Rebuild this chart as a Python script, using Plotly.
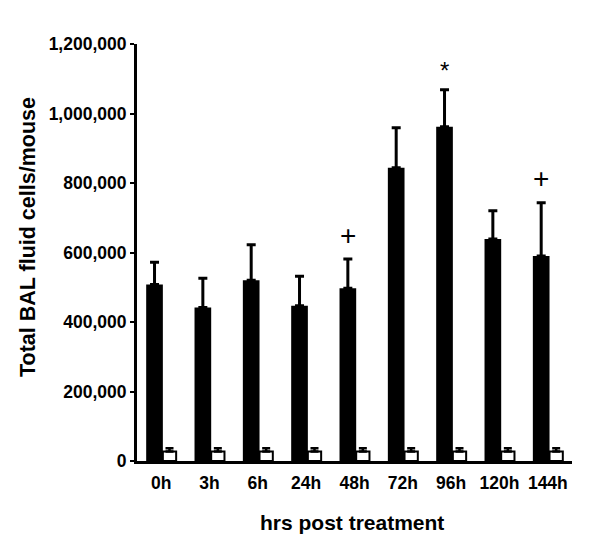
import plotly.graph_objects as go

categories = ["0h", "3h", "6h", "24h", "48h", "72h", "96h", "120h", "144h"]
treated_mean = [508000, 442000, 520000, 447000, 497000, 844000, 962000, 639000, 590000]
treated_err = [64000, 84000, 102000, 85000, 84000, 115000, 106000, 81000, 153000]
control_mean = [27000, 27000, 27000, 27000, 27000, 27000, 27000, 27000, 27000]
control_err = [10000, 10000, 10000, 10000, 10000, 10000, 10000, 10000, 10000]
markers = ["", "", "", "", "+", "", "*", "", "+"]
y_ticks = [0, 200000, 400000, 600000, 800000, 1000000, 1200000]
y_ticktext = ["0", "200,000", "400,000", "600,000", "800,000", "1,000,000", "1,200,000"]

FONT = "Liberation Sans, Arial, sans-serif"

B_OFF, B_W = -0.31, 0.345
W_OFF, W_W = 0.035, 0.275

# page has an 8px body margin; compensate
PAD = 8
FW, FH = 600 - PAD, 545 - PAD

fig = go.Figure()
fig.add_trace(go.Bar(
    x=categories, y=treated_mean, offset=B_OFF, width=B_W,
    marker=dict(color="black", line=dict(color="black", width=0)),
    error_y=dict(type="data", array=treated_err, arrayminus=[0]*len(treated_err),
                 symmetric=False, color="black", thickness=3, width=4.5),
    showlegend=False,
))
fig.add_trace(go.Bar(
    x=categories, y=control_mean, offset=W_OFF, width=W_W,
    marker=dict(color="white", line=dict(color="black", width=2)),
    error_y=dict(type="data", array=control_err, arrayminus=[0]*len(control_err),
                 symmetric=False, color="black", thickness=2.5, width=4),
    showlegend=False,
))

annotations = []
for i, m in enumerate(markers):
    if m:
        annotations.append(dict(
            x=i + B_OFF + B_W / 2, xref="x",
            y=treated_mean[i] + treated_err[i], yref="y",
            text=m, showarrow=False, yanchor="middle",
            yshift=24 if m == "+" else 19,
            font=dict(family=FONT, size=28 if m == "+" else 24, color="black"),
        ))

plot_l, plot_r, plot_t, plot_b = 137 - PAD, 572 - PAD, 44 - PAD, 461 - PAD
pw = plot_r - plot_l
ph = plot_b - plot_t
annotations.append(dict(
    text="Total BAL fluid cells/mouse", textangle=-90,
    xref="paper", yref="paper",
    x=(28 - PAD - plot_l) / pw, y=(plot_b - (237 - PAD)) / ph,
    showarrow=False, xanchor="center", yanchor="middle",
    font=dict(family=FONT, size=21.5, color="black", weight="bold"),
))
annotations.append(dict(
    text="hrs post treatment",
    xref="paper", yref="paper",
    x=(352 - PAD - plot_l) / pw, y=(plot_b - (522 - PAD)) / ph,
    showarrow=False, xanchor="center", yanchor="middle",
    font=dict(family=FONT, size=21, color="black", weight="bold"),
))

fig.update_layout(
    width=FW, height=FH,
    margin=dict(l=plot_l, r=FW - plot_r, t=plot_t, b=FH - plot_b, pad=0),
    paper_bgcolor="white", plot_bgcolor="white",
    barmode="overlay",
    annotations=annotations,
    xaxis=dict(
        type="category", range=[-0.5, 8.5],
        showline=True, linecolor="black", linewidth=3,
        ticks="", showgrid=False, zeroline=False,
        tickfont=dict(family=FONT, size=17.5, color="black", weight="bold"),
        ticklabelstandoff=4,
    ),
    yaxis=dict(
        range=[0, 1200000],
        tickvals=y_ticks, ticktext=y_ticktext,
        showline=True, linecolor="black", linewidth=3,
        ticks="outside", ticklen=4, tickwidth=2, tickcolor="black",
        showgrid=False, zeroline=False,
        tickfont=dict(family=FONT, size=17.5, color="black", weight="bold"),
    ),
)

fig.write_html("out.html")
